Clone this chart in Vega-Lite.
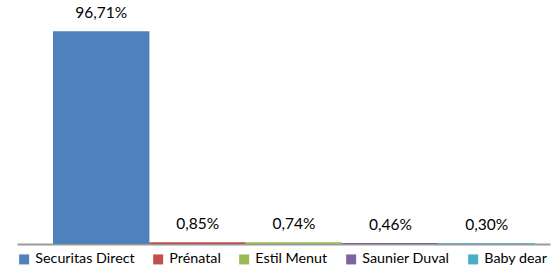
{
  "$schema": "https://vega.github.io/schema/vega-lite/v6.json",
  "width": 533,
  "height": 220,
  "autosize": {"type": "none"},
  "padding": {"left": 17, "top": 24, "right": 6, "bottom": 22},
  "config": {
    "view": {"stroke": null},
    "locale": {"number": {"decimal": ",", "thousands": ".", "grouping": [3], "currency": ["", " €"]}},
    "font": "Lato"
  },
  "data": {
    "values": [
      {"brand": "Securitas Direct", "share": 0.9671},
      {"brand": "Prénatal", "share": 0.0085},
      {"brand": "Estil Menut", "share": 0.0074},
      {"brand": "Saunier Duval", "share": 0.0046},
      {"brand": "Baby dear", "share": 0.0030}
    ]
  },
  "encoding": {
    "x": {
      "field": "brand",
      "type": "nominal",
      "sort": null,
      "scale": {"paddingInner": 0, "paddingOuter": 0.2645, "align": 0.706},
      "axis": {
        "title": null,
        "labels": false,
        "ticks": false,
        "grid": false,
        "domainColor": "#9a9a9a",
        "domainWidth": 2,
        "minExtent": 0,
        "maxExtent": 0
      }
    },
    "y": {
      "field": "share",
      "type": "quantitative",
      "scale": {"domain": [0, 1], "nice": false},
      "axis": null
    }
  },
  "layer": [
    {
      "mark": {"type": "bar"},
      "encoding": {
        "color": {
          "field": "brand",
          "type": "nominal",
          "sort": null,
          "scale": {
            "domain": ["Securitas Direct", "Prénatal", "Estil Menut", "Saunier Duval", "Baby dear"],
            "range": ["#4F81BD", "#C0504D", "#9BBB59", "#8064A2", "#4BACC6"]
          },
          "legend": {
            "title": null,
            "orient": "bottom",
            "direction": "horizontal",
            "offset": 8,
            "symbolType": "square",
            "symbolSize": 100,
            "symbolStrokeWidth": 0,
            "labelFontSize": 14.3,
            "labelColor": "#000000",
            "labelOffset": 4,
            "columnPadding": 16,
            "padding": 0
          }
        }
      }
    },
    {
      "mark": {"type": "text", "baseline": "bottom", "dy": -10, "fontSize": 15.5, "color": "#000000"},
      "encoding": {
        "text": {"field": "share", "type": "quantitative", "format": ".2%"}
      }
    }
  ]
}
